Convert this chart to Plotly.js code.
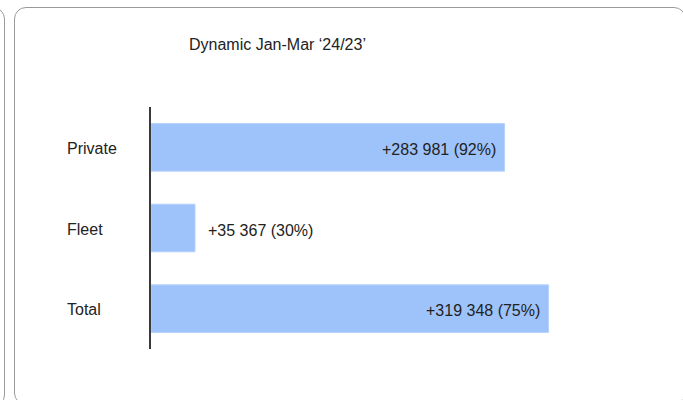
<!DOCTYPE html>
<html>
<head>
<meta charset="utf-8">
<script src="https://cdn.plot.ly/plotly-3.0.1.min.js"></script>
<style>
  html, body { margin: 0; padding: 0; background: #ffffff; }
  #wrap { position: relative; width: 683px; height: 400px; overflow: hidden; }
  .panel { position: absolute; border: 1.5px solid #9a9a9a; border-radius: 12px; box-sizing: border-box; }
  #chart { position: absolute; left: 0; top: 0; width: 683px; height: 400px; }
</style>
</head>
<body>
<div id="wrap">
  <div class="panel" style="left:-600px; top:7px; width:605px; height:400px;"></div>
  <div class="panel" style="left:14px; top:7px; width:672px; height:398px;"></div>
  <div id="chart"></div>
</div>
<script>
const categories = ["Private", "Fleet", "Total"];
const values = [283981, 35367, 319348];
const valueLabels = ["+283 981 (92%)", "+35 367 (30%)", "+319 348 (75%)"];
const chartTitle = "Dynamic Jan-Mar \u201824/23\u2019";

const FONT = "Liberation Sans, Arial, Helvetica, sans-serif";
const TEXT_COLOR = "#222222";
const xMax = 400000;

const annotations = [];
categories.forEach((c, i) => {
  annotations.push({
    xref: "paper", yref: "y", x: -0.1727, y: c,
    xanchor: "left", yanchor: "middle", yshift: -1,
    text: c, showarrow: false,
    font: { family: FONT, size: 16, color: TEXT_COLOR }
  });
  const inside = values[i] > xMax * 0.3;
  annotations.push({
    xref: "x", yref: "y", x: values[i], y: c,
    xanchor: inside ? "right" : "left", yanchor: "middle",
    xshift: inside ? -7 : 11, yshift: -2,
    text: valueLabels[i], showarrow: false,
    font: { family: FONT, size: 16, color: TEXT_COLOR }
  });
});

const data = [{
  type: "bar",
  orientation: "h",
  y: categories,
  x: values,
  marker: { color: "#9ec3fb", line: { color: "#b6d2fb", width: 1 } },
  hoverinfo: "none"
}];

const layout = {
  width: 683, height: 400,
  margin: { l: 151, r: 34, t: 107, b: 51, pad: 0 },
  paper_bgcolor: "rgba(0,0,0,0)",
  plot_bgcolor: "rgba(0,0,0,0)",
  showlegend: false,
  bargap: 0.41,
  title: {
    text: chartTitle,
    xref: "container", yref: "container",
    x: 189 / 683, xanchor: "left",
    y: 1 - 44 / 400, yanchor: "middle",
    font: { family: FONT, size: 16, color: TEXT_COLOR }
  },
  xaxis: {
    range: [0, xMax], visible: false, fixedrange: true
  },
  yaxis: {
    type: "category",
    autorange: "reversed",
    range: [2.5, -0.5],
    showticklabels: false,
    ticks: "",
    showgrid: false,
    zeroline: false,
    showline: true,
    linecolor: "#3a3a3a",
    linewidth: 2,
    fixedrange: true
  },
  annotations: annotations
};

Plotly.newPlot("chart", data, layout, { staticPlot: true, displayModeBar: false });
</script>
</body>
</html>
